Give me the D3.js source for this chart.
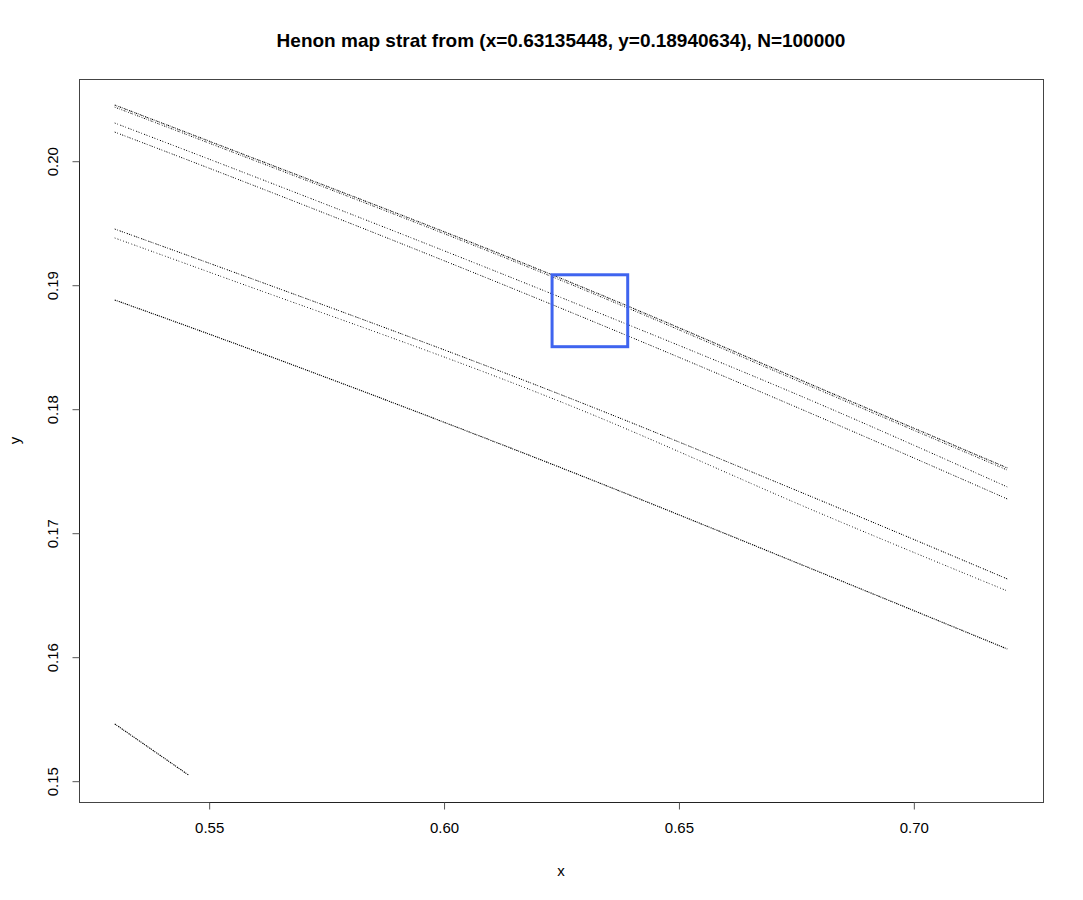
<!DOCTYPE html>
<html>
<head>
<meta charset="utf-8">
<script src="https://cdn.jsdelivr.net/npm/d3@7"></script>
<style>
    body { margin: 0; background: #fff; }
    text { font-family: "Liberation Sans", Arial, sans-serif; fill: #000; }
</style>
</head>
<body>
<svg id="chart"></svg>
<script>
const strandX = [0.53, 0.55, 0.63, 0.68, 0.72]

// y of each strand at those x positions
const strandTopA = [0.20449, 0.20159, 0.18973, 0.18167, 0.17522]
const strandTopB = [0.20432, 0.20143, 0.18957, 0.18150, 0.17505]
const strandSecond = [0.20304, 0.20014, 0.18820, 0.18038, 0.17369]
const strandThird = [0.20231, 0.19941, 0.18732, 0.17933, 0.17272]
const strandMidA = [0.19449, 0.19175, 0.18038, 0.17264, 0.16627]
const strandMidB = [0.19377, 0.19103, 0.17978, 0.17159, 0.16530]
const strandLow = [0.18877, 0.18603, 0.17449, 0.16683, 0.16062]

// short piece in the lower left corner
const shortX = [0.53, 0.5457]
const shortY = [0.15458, 0.15046]

// zoom box drawn on top
const boxX = [0.6231, 0.6392]
const boxY = [0.1850, 0.1908]

const xTicks = [0.55, 0.60, 0.65, 0.70]
const yTicks = [0.15, 0.16, 0.17, 0.18, 0.19, 0.20]

const title = "Henon map strat from (x=0.63135448, y=0.18940634), N=100000"

const width = 1083
const height = 900
const margin = { top: 79, right: 40, bottom: 98, left: 79 }

const svg = d3.select("#chart")
    .attr("width", width)
    .attr("height", height)

// R style 4% padding around the data range
const x = d3.scaleLinear().domain([0.52240, 0.72760]).range([margin.left, width - margin.right])
const y = d3.scaleLinear().domain([0.14828, 0.20659]).range([height - margin.bottom, margin.top])

const strands = [
    { ys: strandTopA, dash: "1.2,0.8,0.6,1.4,1,0.7", w: 1.1 },
    { ys: strandTopB, dash: "0.8,1.6,1.2,1,0.6,2", w: 1 },
    { ys: strandSecond, dash: "1,1.8,0.7,2.4,1.2,1.4", w: 1 },
    { ys: strandThird, dash: "1.2,1.5,0.8,2.2,1,1.2", w: 1 },
    { ys: strandMidA, dash: "1.2,1.2,0.8,2,1.4,1", w: 1 },
    { ys: strandMidB, dash: "0.8,2.2,1,1.6,0.7,2.6", w: 1 },
    { ys: strandLow, dash: "1.4,0.8,0.9,1.2,1.2,0.9", w: 1.1 }
]

const line = d3.line()
    .x(d => x(d[0]))
    .y(d => y(d[1]))
    .curve(d3.curveMonotoneX)

//strands
const strandG = svg.append("g")
strandG.selectAll("path")
    .data(strands).enter().append("path")
    .attr("d", s => line(strandX.map((v, i) => [v, s.ys[i]])))
    .attr("fill", "none")
    .attr("stroke", "#000")
    .attr("stroke-width", s => s.w)
    .attr("stroke-dasharray", s => s.dash)

strandG.append("path")
    .attr("d", line(shortX.map((v, i) => [v, shortY[i]])))
    .attr("fill", "none")
    .attr("stroke", "#000")
    .attr("stroke-width", 1.1)
    .attr("stroke-dasharray", "1.4,0.7,1,1.1")

//blue box
svg.append("rect")
    .attr("x", x(boxX[0]))
    .attr("y", y(boxY[1]))
    .attr("width", x(boxX[1]) - x(boxX[0]))
    .attr("height", y(boxY[0]) - y(boxY[1]))
    .attr("fill", "none")
    .attr("stroke", "#3f64ef")
    .attr("stroke-width", 3)

//frame
svg.append("rect")
    .attr("x", margin.left + 0.5)
    .attr("y", margin.top + 0.5)
    .attr("width", width - margin.left - margin.right)
    .attr("height", height - margin.top - margin.bottom)
    .attr("fill", "none")
    .attr("stroke", "#444")

//axes
const xAxis = svg.append("g")
    .attr("transform", `translate(0.5, ${height - margin.bottom + 0.5})`)
    .call(d3.axisBottom(x).tickValues(xTicks).tickFormat(d3.format(".2f")).tickSize(7).tickPadding(13))
xAxis.select(".domain").attr("d", `M${x(xTicks[0])},0H${x(xTicks[xTicks.length - 1])}`).attr("stroke", "#222")

const yAxis = svg.append("g")
    .attr("transform", `translate(${margin.left + 0.5}, 0.5)`)
    .call(d3.axisLeft(y).tickValues(yTicks).tickFormat(d3.format(".2f")).tickSize(7))
yAxis.select(".domain").attr("d", `M0,${y(yTicks[0])}V${y(yTicks[yTicks.length - 1])}`).attr("stroke", "#222")

svg.selectAll(".tick line").attr("stroke", "#555")
svg.selectAll(".tick text").style("font-size", "15px").attr("fill", "#000")

yAxis.selectAll(".tick text")
    .attr("x", null).attr("dy", null)
    .attr("text-anchor", "middle")
    .attr("transform", "translate(-22, 0) rotate(-90)")
    .attr("y", 0)

//labels
svg.append("text")
    .attr("x", (margin.left + width - margin.right) / 2)
    .attr("y", 47)
    .attr("text-anchor", "middle")
    .style("font-size", "19px")
    .style("font-weight", "bold")
    .text(title)

svg.append("text")
    .attr("x", (margin.left + width - margin.right) / 2)
    .attr("y", 876)
    .attr("text-anchor", "middle")
    .style("font-size", "15px")
    .text("x")

svg.append("text")
    .attr("transform", `translate(20, ${(margin.top + height - margin.bottom) / 2}) rotate(-90)`)
    .attr("text-anchor", "middle")
    .style("font-size", "15px")
    .text("y")
</script>
</body>
</html>
